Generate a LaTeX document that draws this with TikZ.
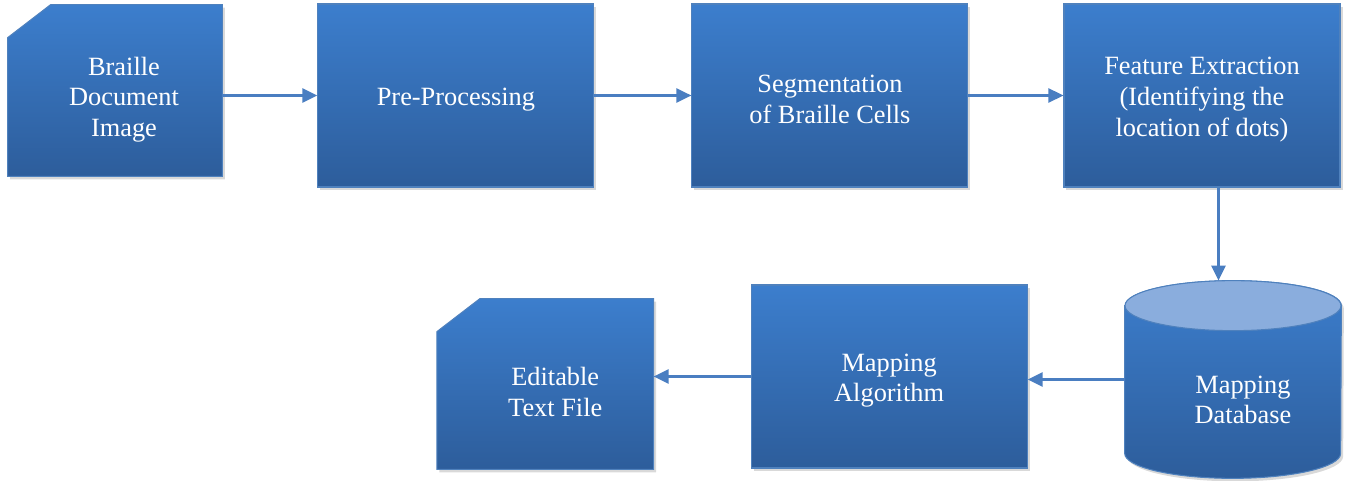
\documentclass[tikz,border=0pt]{standalone}
\usepackage{fontspec}
\setmainfont{Liberation Serif}
\definecolor{boxtop}{RGB}{60, 126, 205}
\definecolor{boxbot}{RGB}{45, 93, 155}
\definecolor{boxline}{RGB}{79, 129, 189}
\definecolor{dbcap}{RGB}{138, 173, 221}
\definecolor{arr}{RGB}{74, 126, 193}
\usetikzlibrary{arrows.meta, positioning, shadows, backgrounds}

\tikzset{
  blkfill/.style={draw=boxline, line width=0.6pt, top color=boxtop, bottom color=boxbot,
    drop shadow={shadow xshift=0.05cm, shadow yshift=-0.06cm, opacity=0.3}},
  txtlbl/.style={text=white, font=\fontsize{15}{17.5}\selectfont, align=center},
  blk/.style={rectangle, blkfill, inner sep=0pt, minimum width=5.52cm, minimum height=3.66cm,
    label={[txtlbl, yshift=-0.08cm]center:#1}},
  hollow/.style={rectangle, inner sep=0pt},
  flow/.style={-{Triangle[length=3mm, width=2.8mm]}, arr, line width=1.4pt}
}

\begin{document}
\begin{tikzpicture}
  \useasboundingbox (0,0) rectangle (27.1,-9.62);

  % top row
  \node[hollow, minimum width=4.28cm, minimum height=3.42cm,
        label={[txtlbl, xshift=0.18cm, yshift=-0.18cm]center:Braille\\Document\\Image}] (img) at (2.30,-1.81) {};
  \node[blk={Pre-Processing}] (pre) [right=1.9cm of img, yshift=-0.1cm] {};
  \node[blk={Segmentation\\of Braille Cells}] (seg) [right=1.94cm of pre] {};
  \node[blk={Feature Extraction\\(Identifying the\\location of dots)}] (feat) [right=1.9cm of seg] {};

  % bottom row
  \node[hollow, minimum width=4.32cm, minimum height=3.94cm,
        label={[txtlbl, xshift=0.2cm, yshift=-0.41cm]center:Mapping\\Database}] (db) at (24.66,-7.59) {};
  \node[blk={Mapping\\Algorithm}] (alg) [left=1.94cm of db, yshift=0.06cm] {};
  \node[hollow, minimum width=4.32cm, minimum height=3.40cm,
        label={[txtlbl, xshift=0.2cm, yshift=-0.16cm]center:Editable\\Text File}] (txt) [left=1.94cm of alg, yshift=-0.15cm] {};

  \begin{scope}[on background layer]
    % cut-corner documents
    \foreach \d in {img, txt}
      \shade[blkfill] ([yshift=-0.66cm]\d.north west) -- (\d.south west) -- (\d.south east)
        -- (\d.north east) -- ([xshift=0.86cm]\d.north west) -- cycle;
    % database cylinder
    \shade[blkfill]
      ([yshift=-0.5cm]db.north west) -- ([yshift=0.5cm]db.south west)
      arc[start angle=180, end angle=360, x radius=2.16cm, y radius=0.5cm]
      -- ([yshift=-0.5cm]db.north east)
      arc[start angle=0, end angle=180, x radius=2.16cm, y radius=0.5cm] -- cycle;
    \filldraw[fill=dbcap, draw=boxline, line width=0.6pt]
      ([yshift=-0.5cm]db.north) ellipse [x radius=2.16cm, y radius=0.5cm];
  \end{scope}

  \draw[flow] (img.east |- pre.west) -- (pre.west);
  \draw[flow] (pre) -- (seg);
  \draw[flow] (seg) -- (feat);
  \draw[flow] ([xshift=0.33cm]feat.south) -- ([xshift=0.33cm]feat.south |- db.north);
  \draw[flow] (db.west) -- (db.west -| alg.east);
  \draw[flow] (alg.west) -- (alg.west -| txt.east);
\end{tikzpicture}
\end{document}
